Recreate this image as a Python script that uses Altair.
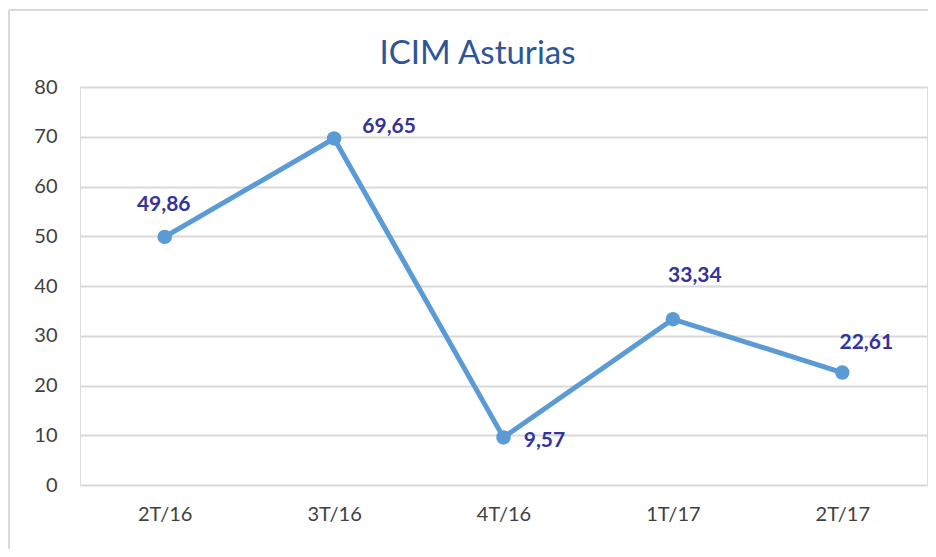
import altair as alt
import pandas as pd

categories = ["2T/16", "3T/16", "4T/16", "1T/17", "2T/17"]
values = [49.86, 69.65, 9.57, 33.34, 22.61]
labels = ["49,86", "69,65", "9,57", "33,34", "22,61"]
label_dx = [-1, 55, 41, 22, 24]
label_dy = [-32, -11, 4, -43, -30]
y_ticks = [0, 10, 20, 30, 40, 50, 60, 70, 80]
title_text = "ICIM Asturias"

df = pd.DataFrame({"cat": categories, "val": values, "lab": labels})

LINE = "#5B9BD5"
LABEL = "#333399"
FONT = "Lato"

x_enc = alt.X("cat:N", sort=categories,
              scale=alt.Scale(type="point", padding=0.5),
              axis=alt.Axis(title=None, labelAngle=0, domain=False, ticks=False,
                            labelPadding=19, labelFontSize=20, labelFont=FONT,
                            labelColor="#404040", grid=False))
y_enc = alt.Y("val:Q", scale=alt.Scale(domain=[0, 80], nice=False),
              axis=alt.Axis(title=None, values=y_ticks, domain=False, ticks=False,
                            labelPadding=23, labelFontSize=20, labelFont=FONT,
                            labelColor="#404040", grid=True, gridColor="#D9D9D9",
                            gridWidth=2))

base = alt.Chart(df)

line = base.mark_line(color=LINE, strokeWidth=5).encode(x=x_enc, y=y_enc)
pts = base.mark_point(color=LINE, filled=True, opacity=1, size=210).encode(x=x_enc, y=y_enc)

text_layers = []
for cat, dx, dy in zip(categories, label_dx, label_dy):
    text_layers.append(
        base.transform_filter(alt.datum.cat == cat).mark_text(
            color=LABEL, font=FONT, fontSize=21, fontWeight="bold",
            align="center", baseline="middle", dx=dx, dy=dy
        ).encode(x=x_enc, y=y_enc, text="lab:N")
    )

border_v = alt.Chart(df).mark_rule(color="#D9D9D9", strokeWidth=1.5, clip=False).encode(
    x=alt.value(-71), y=alt.value(-77), y2=alt.value(480))
border_h = alt.Chart(df).mark_rule(color="#D9D9D9", strokeWidth=1.5, clip=False).encode(
    x=alt.value(-71), x2=alt.value(900), y=alt.value(-77))

title = alt.Chart(df).transform_filter(alt.datum.cat == categories[0]).mark_text(
    text=title_text, font=FONT, fontSize=33, color="#2E5597",
    align="center", baseline="alphabetic", clip=False
).encode(x=alt.value(397.5), y=alt.value(-23))

chart = alt.layer(border_v, border_h, line, pts, *text_layers, title).properties(
    width=847, height=398,
    autosize=alt.AutoSizeParams(type="none"),
    padding={"left": 72, "top": 79, "right": 1, "bottom": 64},
).configure_view(stroke=None).configure(background="white")

chart.save("out.html", embed_options={"renderer": "svg", "actions": False})
